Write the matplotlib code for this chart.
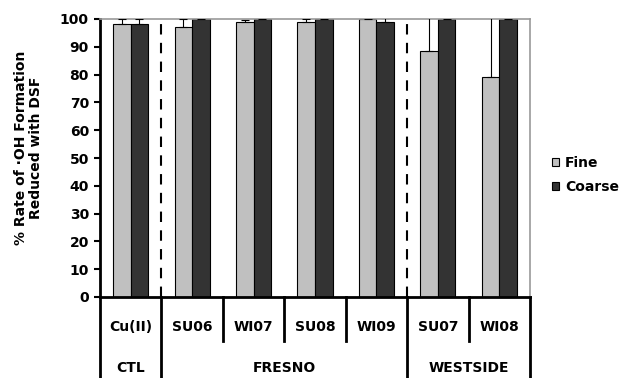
import matplotlib
matplotlib.use("Agg")
import matplotlib.pyplot as plt
from matplotlib.patches import Patch
import numpy as np

plt.rcParams['font.family'] = ['DejaVu Sans']
plt.rcParams['font.weight'] = 'bold'

categories = ["Cu(II)", "SU06", "WI07", "SU08", "WI09", "SU07", "WI08"]
groups = ["CTL", "FRESNO", "WESTSIDE"]
group_spans = [(0, 0), (1, 4), (5, 6)]
fine = [98.3, 97.3, 99.1, 98.9, 100.0, 88.6, 79.2]
fine_err = [1.6, 2.6, 0.6, 1.2, 1.0, 15.0, 25.0]
coarse = [98.3, 100.0, 100.0, 100.0, 98.9, 100.0, 100.0]
coarse_err = [1.7, 1.0, 1.0, 1.0, 1.3, 1.0, 1.0]
yticks = list(range(0, 101, 10))

FS = 10

fig = plt.figure(figsize=(6.28, 3.78), dpi=100)
ax = fig.add_axes([100/628, 1-297/378, 430/628, 278/378])

x = np.arange(len(categories))
w = 0.285
ax.bar(x - w/2, fine, w, color='#c0c0c0', edgecolor='black', linewidth=0.8, zorder=2)
ax.bar(x + w/2, coarse, w, color='#333333', edgecolor='black', linewidth=0.8, zorder=2)
ax.errorbar(x - w/2, fine, yerr=[np.zeros(len(fine)), fine_err], fmt='none',
            ecolor='black', elinewidth=0.8, capsize=3, capthick=0.8, zorder=3)
ax.errorbar(x + w/2, coarse, yerr=[np.zeros(len(coarse)), coarse_err], fmt='none',
            ecolor='black', elinewidth=0.8, capsize=3, capthick=0.8, zorder=3)

ax.set_xlim(-0.5, len(categories) - 0.5)
ax.set_ylim(0, 100)
ax.set_yticks(yticks)
ax.set_yticklabels([str(t) for t in yticks], fontsize=FS, fontweight='bold')
ax.tick_params(axis='y', direction='out', length=4, width=1.5, pad=4)
ax.set_xticks([])

for side in ['top', 'right']:
    ax.spines[side].set_color('#999999')
    ax.spines[side].set_linewidth(1.2)
ax.spines['left'].set_linewidth(2)
ax.spines['bottom'].set_linewidth(2)

# dashed separators between groups
for (s, e) in group_spans[:-1]:
    ax.axvline(e + 0.5, ymin=0, ymax=1, color='black', linestyle=(0, (5, 4)),
               linewidth=1.5, zorder=1)

# category labels and separators below axis
for i, c in enumerate(categories):
    ax.text(i, -0.108, c, transform=ax.get_xaxis_transform(), ha='center',
            va='center', fontsize=FS, fontweight='bold')
inner_bottom = (297 - 341) / 278
outer_bottom = (297 - 380) / 278
group_edges = set([-0.5] + [e + 0.5 for (_, e) in group_spans])
for b in np.arange(-0.5, len(categories)):
    yb = outer_bottom if b in group_edges else inner_bottom
    ax.plot([b, b], [0, yb], transform=ax.get_xaxis_transform(), color='black',
            linewidth=2, clip_on=False)
for g, (s, e) in zip(groups, group_spans):
    ax.text((s + e) / 2, -0.255, g, transform=ax.get_xaxis_transform(),
            ha='center', va='center', fontsize=FS, fontweight='bold')

fig.text(28.5/628, 1-148/378, "% Rate of ·OH Formation\nReduced with DSF",
         rotation=90, ha='center', va='center', fontsize=FS, fontweight='bold',
         linespacing=1.15, multialignment='center')

handles = [Patch(facecolor='#c0c0c0', edgecolor='black', linewidth=0.8, label='Fine'),
           Patch(facecolor='#333333', edgecolor='black', linewidth=0.8, label='Coarse')]
fig.legend(handles=handles, loc='center left', bbox_to_anchor=(542/628, 1-175/378),
           frameon=False, handlelength=0.55, handleheight=0.55,
           handletextpad=0.4, labelspacing=0.7, borderpad=0.2,
           prop={'weight': 'bold', 'size': FS})

fig.savefig("out.png", dpi=100)
